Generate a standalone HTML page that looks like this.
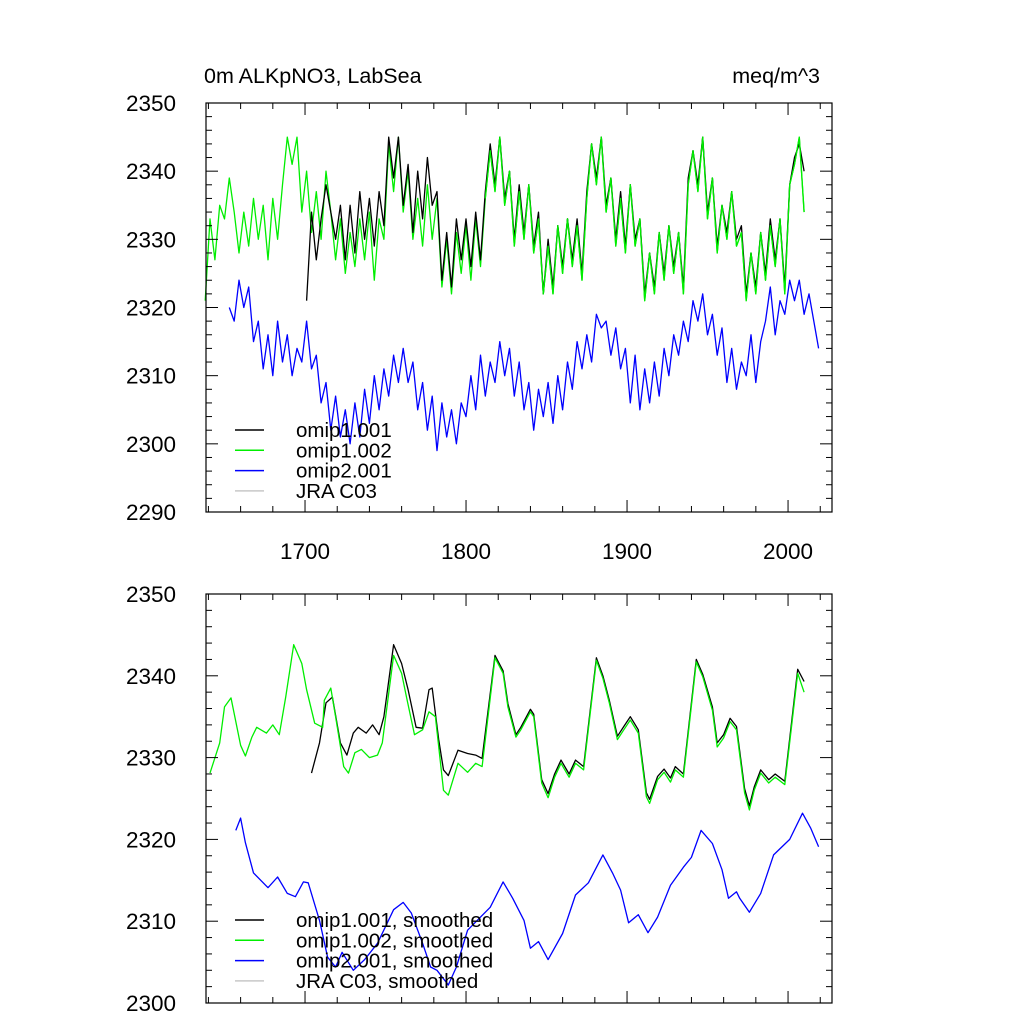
<!DOCTYPE html>
<html><head><meta charset="utf-8"><style>
html,body{margin:0;padding:0;background:#fff;}
svg text{font-family:"Liberation Sans",sans-serif;fill:#000;}
</style></head><body>
<svg id="chart" width="1024" height="1024" viewBox="0 0 1024 1024" xmlns="http://www.w3.org/2000/svg">
<text x="204" y="83" font-size="21.5">0m ALKpNO3, LabSea</text>
<text x="820" y="83" font-size="21.5" text-anchor="end">meq/m^3</text>
</svg>
<script>
// ---- data ----
const xTicks = [1700, 1800, 1900, 2000];
const topYTicks = [2290, 2300, 2310, 2320, 2330, 2340, 2350];
const botYTicks = [2300, 2310, 2320, 2330, 2340, 2350];

const greenYears = [1638,1641,1644,1647,1650,1653,1656,1659,1662,1665,1668,1671,1674,1677,1680,1683,1686,1689,1692,1695,1698,1701,1704,1707,1710,1713,1716,1719,1722,1725,1728,1731,1734,1737,1740,1743,1746,1749,1752,1755,1758,1761,1764,1767,1770,1773,1776,1779,1782,1785,1788,1791,1794,1797,1800,1803,1806,1809,1812,1815,1818,1821,1824,1827,1830,1833,1836,1839,1842,1845,1848,1851,1854,1857,1860,1863,1866,1869,1872,1875,1878,1881,1884,1887,1890,1893,1896,1899,1902,1905,1908,1911,1914,1917,1920,1923,1926,1929,1932,1935,1938,1941,1944,1947,1950,1953,1956,1959,1962,1965,1968,1971,1974,1977,1980,1983,1986,1989,1992,1995,1998,2001,2004,2007,2010];
const greenValues = [2321,2333,2327,2335,2333,2339,2334,2328,2334,2329,2336,2330,2335,2327,2336,2330,2338,2345,2341,2345,2334,2340,2331,2337,2330,2340,2334,2327,2333,2325,2331,2326,2333,2327,2334,2324,2333,2330,2344,2337,2345,2334,2340,2330,2336,2329,2338,2330,2336,2323,2330,2322,2331,2325,2332,2324,2333,2326,2336,2343,2337,2345,2335,2340,2329,2337,2330,2338,2328,2333,2322,2329,2322,2332,2325,2333,2326,2332,2324,2336,2344,2338,2345,2334,2339,2329,2336,2328,2338,2329,2333,2321,2328,2322,2331,2324,2332,2325,2331,2322,2338,2343,2337,2345,2333,2339,2328,2335,2330,2337,2329,2331,2321,2328,2322,2331,2324,2332,2326,2333,2322,2338,2341,2345,2334];

const blackYears = [1701,1704,1707,1710,1713,1716,1719,1722,1725,1728,1731,1734,1737,1740,1743,1746,1749,1752,1755,1758,1761,1764,1767,1770,1773,1776,1779,1782,1785,1788,1791,1794,1797,1800,1803,1806,1809,1812,1815,1818,1821,1824,1827,1830,1833,1836,1839,1842,1845,1848,1851,1854,1857,1860,1863,1866,1869,1872,1875,1878,1881,1884,1887,1890,1893,1896,1899,1902,1905,1908,1911,1914,1917,1920,1923,1926,1929,1932,1935,1938,1941,1944,1947,1950,1953,1956,1959,1962,1965,1968,1971,1974,1977,1980,1983,1986,1989,1992,1995,1998,2001,2004,2007,2010];
const blackValues = [2321,2334,2327,2333,2338,2334,2330,2335,2327,2335,2328,2337,2330,2336,2329,2337,2332,2345,2339,2345,2335,2341,2331,2340,2333,2342,2335,2337,2324,2331,2323,2333,2327,2333,2326,2334,2327,2337,2344,2338,2345,2336,2340,2330,2338,2331,2338,2329,2334,2322,2330,2323,2332,2326,2333,2327,2333,2325,2337,2344,2339,2345,2335,2339,2330,2337,2329,2338,2330,2333,2322,2328,2323,2331,2325,2332,2326,2331,2323,2339,2343,2338,2345,2334,2339,2329,2335,2331,2337,2330,2332,2322,2328,2323,2331,2325,2333,2327,2333,2323,2338,2342,2344,2340];

const blueYears = [1653,1656,1659,1662,1665,1668,1671,1674,1677,1680,1683,1686,1689,1692,1695,1698,1701,1704,1707,1710,1713,1716,1719,1722,1725,1728,1731,1734,1737,1740,1743,1746,1749,1752,1755,1758,1761,1764,1767,1770,1773,1776,1779,1782,1785,1788,1791,1794,1797,1800,1803,1806,1809,1812,1815,1818,1821,1824,1827,1830,1833,1836,1839,1842,1845,1848,1851,1854,1857,1860,1863,1866,1869,1872,1875,1878,1881,1884,1887,1890,1893,1896,1899,1902,1905,1908,1911,1914,1917,1920,1923,1926,1929,1932,1935,1938,1941,1944,1947,1950,1953,1956,1959,1962,1965,1968,1971,1974,1977,1980,1983,1986,1989,1992,1995,1998,2001,2004,2007,2010,2013,2016,2019];
const blueValues = [2320,2318,2324,2320,2323,2315,2318,2311,2316,2310,2318,2312,2316,2310,2314,2312,2318,2311,2313,2306,2309,2302,2307,2301,2305,2300,2306,2301,2308,2303,2310,2305,2311,2307,2313,2309,2314,2309,2312,2305,2309,2302,2307,2299,2306,2301,2305,2300,2306,2304,2310,2305,2313,2307,2312,2309,2315,2310,2314,2307,2312,2305,2309,2302,2308,2304,2309,2303,2310,2305,2312,2308,2315,2311,2316,2312,2319,2317,2318,2313,2317,2311,2314,2306,2313,2305,2311,2306,2312,2307,2314,2310,2316,2313,2318,2315,2321,2318,2322,2316,2319,2313,2317,2309,2314,2308,2312,2310,2316,2309,2315,2318,2323,2316,2321,2319,2324,2321,2324,2319,2322,2318,2314];

const greenSmYears = [1641,1647,1650,1654,1660,1663,1667,1670,1676,1680,1684,1688,1693,1698,1701,1706,1711,1712,1716,1719,1724,1727,1731,1735,1740,1745,1748,1755,1760,1763,1768,1773,1777,1781,1786,1789,1795,1801,1806,1810,1818,1823,1826,1831,1834,1840,1842,1847,1851,1855,1859,1864,1868,1873,1881,1885,1889,1894,1898,1902,1907,1912,1914,1919,1923,1927,1930,1935,1943,1947,1953,1956,1960,1964,1968,1973,1976,1979,1983,1988,1992,1998,2006,2010];
const greenSmValues = [2328.1,2331.8,2336.2,2337.3,2331.5,2330.2,2332.5,2333.7,2333,2334,2332.8,2337.4,2343.8,2341.5,2338.3,2334.2,2333.7,2337,2338.5,2335,2328.9,2328.1,2330.6,2331,2330,2330.3,2331.8,2342.5,2340.3,2337.4,2332.8,2333.4,2335.6,2335,2326,2325.4,2329.3,2328.2,2329.3,2328.9,2342.2,2340.3,2336.2,2332.5,2333.4,2335.6,2335,2326.9,2325.1,2327.6,2329.3,2327.6,2329.3,2328.5,2341.9,2339.7,2336.7,2332.2,2333.4,2334.6,2333,2325.2,2324.4,2327.3,2328.2,2327,2328.5,2327.6,2341.7,2339.9,2335.8,2331.3,2332.4,2334.4,2333.4,2325.7,2323.6,2326,2328.1,2326.9,2327.6,2326.7,2340.3,2338];

const blackSmYears = [1704,1709,1713,1717,1722,1726,1730,1733,1738,1742,1746,1749,1755,1760,1764,1769,1773,1777,1779,1783,1786,1789,1795,1801,1806,1810,1818,1823,1826,1831,1834,1840,1842,1847,1851,1855,1859,1864,1868,1873,1881,1885,1889,1894,1898,1902,1907,1912,1914,1919,1923,1927,1930,1935,1943,1947,1953,1956,1960,1964,1968,1973,1976,1979,1983,1988,1992,1998,2006,2010];
const blackSmValues = [2328.1,2331.8,2336.7,2337.4,2331.8,2330.3,2333,2333.7,2333,2334,2332.8,2335,2343.8,2341.5,2338.3,2333.7,2333.6,2338.3,2338.5,2332.2,2328.5,2327.8,2330.9,2330.5,2330.3,2329.9,2342.5,2340.6,2336.6,2332.8,2333.7,2335.9,2335.3,2327.3,2325.6,2328,2329.7,2328,2329.7,2328.9,2342.2,2340,2337,2332.6,2333.8,2335,2333.4,2325.7,2324.9,2327.7,2328.6,2327.5,2328.9,2328,2342,2340.2,2336.2,2331.8,2332.8,2334.8,2333.8,2326.2,2324.1,2326.4,2328.5,2327.3,2328,2327.1,2340.8,2339.3];

const blueSmYears = [1657,1660,1663,1668,1677,1683,1689,1694,1699,1702,1709,1714,1719,1723,1730,1737,1745,1755,1761,1766,1773,1778,1782,1789,1794,1801,1809,1815,1823,1829,1836,1840,1845,1851,1860,1868,1876,1885,1891,1896,1901,1907,1913,1919,1927,1935,1940,1946,1953,1959,1963,1968,1970,1976,1983,1991,2001,2009,2014,2019];
const blueSmValues = [2321.1,2322.6,2319.6,2315.9,2314.1,2315.4,2313.4,2313,2314.8,2314.7,2310.1,2305.6,2304.4,2306.2,2304,2305.3,2307.3,2311.4,2312.3,2311,2307.3,2304.4,2304,2302.2,2304.4,2308.9,2310.5,2311.7,2314.8,2312.8,2310.1,2306.7,2307.5,2305.3,2308.5,2313.2,2314.7,2318.1,2315.9,2313.8,2309.8,2310.8,2308.6,2310.5,2314.4,2316.6,2317.8,2321.1,2319.5,2316.3,2312.8,2313.6,2312.8,2311.1,2313.4,2318.1,2320,2323.2,2321.4,2319.1];

const legendTop = ["omip1.001","omip1.002","omip2.001","JRA C03"];
const legendBot = ["omip1.001, smoothed","omip1.002, smoothed","omip2.001, smoothed","JRA C03, smoothed"];
const legendColors = ["#000000","#00ee00","#0000ff","#c8c8c8"];

// ---- layout ----
const NS = "http://www.w3.org/2000/svg";
const svg = document.getElementById("chart");
const L = 206, R = 832, X0 = 1638.5, X1 = 2027.3;
function xs(yr){ return L + (yr - X0) / (X1 - X0) * (R - L); }
function mk(tag, attrs, parent){ const e = document.createElementNS(NS, tag); for (const k in attrs) e.setAttribute(k, attrs[k]); (parent||svg).appendChild(e); return e; }

function panel(pname, top, bot, vmin, vmax, yTicks, showXLabels, series, legend, legY){
  const ys = v => bot - (v - vmin) / (vmax - vmin) * (bot - top);
  const g = mk("g", {});
  
  
  series.forEach(s => {
    let d = "";
    s.years.forEach((yr, i) => { d += (i ? "L" : "M") + xs(yr).toFixed(1) + " " + ys(s.vals[i]).toFixed(1); });
    const p = mk("path", {d: d, fill: "none", stroke: s.color, "stroke-width": 1.3, "stroke-linejoin": "round"}, g);
    
    
  });
  const fr = mk("rect", {x: L, y: top, width: R - L, height: bot - top, fill: "none", stroke: "#000", "stroke-width": 1.2}, g);
  
  
  for (let v = vmin; v <= vmax + 0.01; v += (vmax - vmin) / ((yTicks.length - 1) * 5)) {
    const y = ys(v);
    const major = Math.abs((v - vmin) % 10) < 0.01 || Math.abs((v - vmin) % 10 - 10) < 0.01;
    const len = major ? 12 : 6;
    mk("line", {x1: L, x2: L + len, y1: y, y2: y, stroke: "#000", "stroke-width": 1}, g);
    mk("line", {x1: R, x2: R - len, y1: y, y2: y, stroke: "#000", "stroke-width": 1}, g);
  }
  yTicks.forEach(v => {
    const t = mk("text", {x: 176, y: ys(v) + 8, "font-size": 22.5, "text-anchor": "end"}, g);
    t.textContent = v;
    
    
  });
  for (let yr = 1640; yr <= 2020; yr += 20) {
    const x = xs(yr);
    const len = yr % 100 === 0 ? 12 : 6;
    mk("line", {x1: x, x2: x, y1: bot, y2: bot - len, stroke: "#000", "stroke-width": 1}, g);
    mk("line", {x1: x, x2: x, y1: top, y2: top + len, stroke: "#000", "stroke-width": 1}, g);
  }
  if (showXLabels) xTicks.forEach(yr => {
    const t = mk("text", {x: xs(yr), y: bot + 47, "font-size": 22.5, "text-anchor": "middle"}, g);
    t.textContent = yr;
    
    
  });
  legend.forEach((lab, i) => {
    const y = legY + i * 20.3;
    const ln = mk("line", {x1: 235, x2: 264, y1: y, y2: y, stroke: legendColors[i], "stroke-width": 1.5}, g);
    
    
    const t = mk("text", {x: 296, y: y + 7, "font-size": 20.5}, g);
    t.textContent = lab;
    
    
  });
}

panel("top-panel", 103, 512, 2290, 2350, topYTicks, true, [
  {name: "omip1-002-line", color: "#00ee00", years: greenYears, vals: greenValues},
  {name: "omip1-001-line", color: "#000000", years: blackYears, vals: blackValues},
  {name: "omip2-001-line", color: "#0000ff", years: blueYears, vals: blueValues},
  {name: "omip1-002-line-overlay", color: "#00ee00", years: greenYears.slice(58), vals: greenValues.slice(58)}
], legendTop, 430);

panel("bottom-panel", 594, 1003, 2300, 2350, botYTicks, false, [
  {name: "omip1-001-smoothed-line", color: "#000000", years: blackSmYears, vals: blackSmValues},
  {name: "omip1-002-smoothed-line", color: "#00ee00", years: greenSmYears, vals: greenSmValues},
  {name: "omip2-001-smoothed-line", color: "#0000ff", years: blueSmYears, vals: blueSmValues}
], legendBot, 920);
</script>
</body></html>
